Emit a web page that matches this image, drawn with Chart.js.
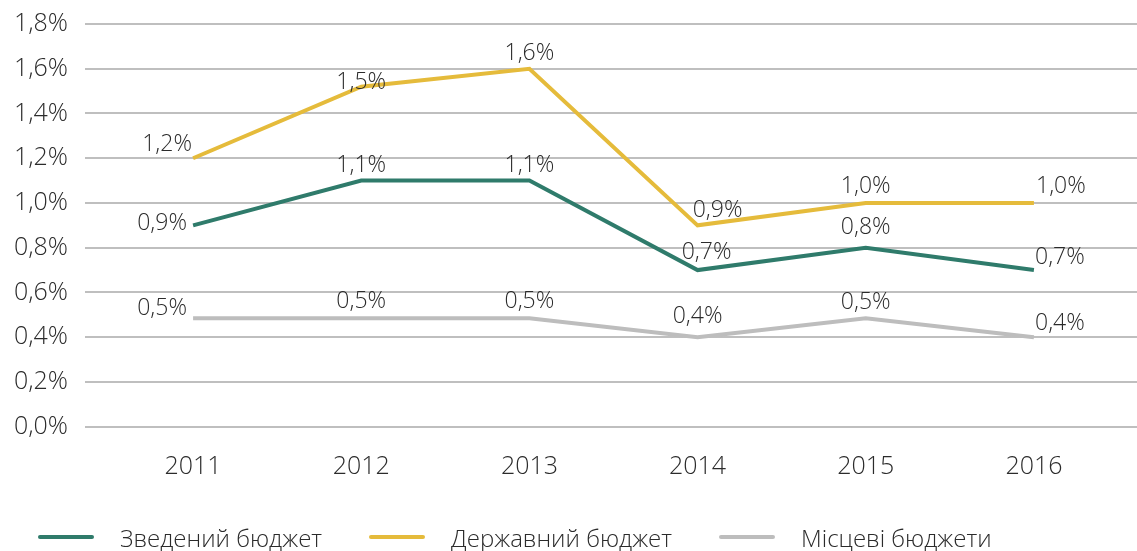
<!DOCTYPE html>
<html lang="uk">
<head>
<meta charset="utf-8">
<title>Бюджети, % ВВП</title>
<script src="https://cdn.jsdelivr.net/npm/chart.js@4/dist/chart.umd.min.js"></script>
<style>
  html, body { margin: 0; padding: 0; background: #fff; }
  #wrap { position: relative; width: 1137px; height: 551px; }
  #chart { position: absolute; left: 0; top: 0; }
  #legend {
    position: absolute; left: 38px; top: 522px; height: 30px;
    display: flex; align-items: center;
    font-family: "Open Sans", sans-serif; font-weight: 300; font-size: 24px; color: #2b2b2b;
  }
  #legend .item { display: flex; align-items: center; margin-right: 47px; }
  #legend .swatch { width: 56px; height: 4px; border-radius: 2px; margin-right: 26px; }
</style>
</head>
<body>
<div id="wrap">
  <canvas id="chart" width="1137" height="551"></canvas>
  <div id="legend"></div>
</div>
<script>
// values, share of GDP (%)
const years = ["2011", "2012", "2013", "2014", "2015", "2016"];
const consolidated = [0.90, 1.10, 1.10, 0.70, 0.80, 0.70];
const stateBudget  = [1.20, 1.52, 1.60, 0.90, 1.00, 1.00];
const localBudgets = [0.485, 0.485, 0.485, 0.40, 0.485, 0.40];
const seriesNames = ["Зведений бюджет", "Державний бюджет", "Місцеві бюджети"];
const yTicks = [0, 0.2, 0.4, 0.6, 0.8, 1.0, 1.2, 1.4, 1.6, 1.8];

const COLORS = ["#2f7b6b", "#e5bb3b", "#bdbdbd"];
const TEXT = "#2b2b2b";
const FONT = "'Open Sans', sans-serif";

// where each value label sits relative to its point (centre offset, px)
const labelOffsets = [
  [[-31, -2], [0, -15], [0, -15], [9, -18], [0, -20], [26, -13]],
  [[-26, -14], [0, -4], [0, -15], [20, -15], [0, -17], [27, -17]],
  [[-31, -10], [0, -17], [0, -17], [0, -21], [0, -16], [26, -14]]
];

const pct = v => v.toFixed(1).replace(".", ",") + "%";

// horizontal grid lines run past the plot area on both sides
const wideGrid = {
  id: "wideGrid",
  beforeDatasetsDraw(chart) {
    const { ctx, scales: { y } } = chart;
    ctx.save();
    ctx.strokeStyle = "#bfbfbf";
    ctx.lineWidth = 2;
    yTicks.forEach(t => {
      const py = Math.round(y.getPixelForValue(t));
      ctx.beginPath();
      ctx.moveTo(85, py);
      ctx.lineTo(chart.width, py);
      ctx.stroke();
    });
    ctx.restore();
  }
};

const valueLabels = {
  id: "valueLabels",
  afterDatasetsDraw(chart) {
    const { ctx } = chart;
    ctx.save();
    ctx.font = "300 23px " + FONT;
    ctx.fillStyle = TEXT;
    ctx.textAlign = "center";
    ctx.textBaseline = "middle";
    chart.data.datasets.forEach((ds, di) => {
      chart.getDatasetMeta(di).data.forEach((pt, i) => {
        const [dx, dy] = labelOffsets[di][i];
        ctx.fillText(pct(ds.data[i]), pt.x + dx, pt.y + dy);
      });
    });
    ctx.restore();
  }
};

const makeSet = (label, data, color) => ({
  label, data,
  borderColor: color,
  backgroundColor: color,
  borderWidth: 4,
  pointRadius: 0,
  tension: 0,
  fill: false
});

new Chart(document.getElementById("chart"), {
  type: "line",
  data: {
    labels: years,
    datasets: [
      makeSet(seriesNames[0], consolidated, COLORS[0]),
      makeSet(seriesNames[1], stateBudget, COLORS[1]),
      makeSet(seriesNames[2], localBudgets, COLORS[2])
    ]
  },
  options: {
    responsive: false,
    animation: false,
    layout: { padding: { top: 24, right: 19, left: 0, bottom: 0 } },
    plugins: { legend: { display: false }, tooltip: { enabled: false } },
    scales: {
      x: {
        offset: true,
        grid: { display: false, drawTicks: false },
        border: { display: false },
        ticks: { color: TEXT, font: { family: FONT, size: 25, weight: 300 }, padding: 25 },
        afterFit(s) { s.height = 124.3; }
      },
      y: {
        min: 0, max: 1.8,
        afterBuildTicks(s) { s.ticks = yTicks.map(v => ({ value: v })); },
        grid: { display: false, drawTicks: false },
        border: { display: false },
        ticks: {
          color: TEXT, font: { family: FONT, size: 25, weight: 300 }, padding: 41,
          callback: v => pct(v)
        },
        afterFit(s) { s.width = 109; s.paddingTop = 0; s.paddingBottom = 0; }
      }
    }
  },
  plugins: [wideGrid, valueLabels]
});

// legend below the plot
const legend = document.getElementById("legend");
seriesNames.forEach((name, i) => {
  const item = document.createElement("div");
  item.className = "item";
  const sw = document.createElement("span");
  sw.className = "swatch";
  sw.style.background = COLORS[i];
  const txt = document.createElement("span");
  txt.textContent = name;
  item.append(sw, txt);
  legend.append(item);
});
</script>
</body>
</html>
